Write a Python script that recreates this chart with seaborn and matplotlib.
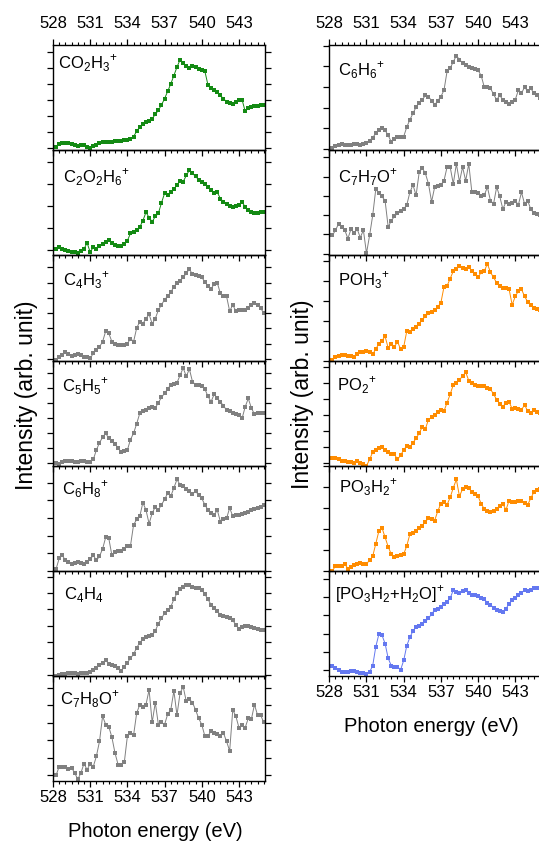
import numpy as np
import matplotlib
matplotlib.use("Agg")
import matplotlib.pyplot as plt
import seaborn as sns

# photon energy grid (eV), values in % of panel height
energy = np.round(np.arange(528.25, 545.01, 0.25), 2)

co2h3 = [3, 6, 7,
         7, 7, 6, 5, 4, 5, 5, 3, 2, 4, 5, 7, 8, 8, 8, 8,
         9, 9, 9, 10, 10, 11, 13, 18, 22, 25, 27, 28, 30, 34, 38, 43,
         49, 56, 63, 71, 79, 86, 83, 80, 78, 80, 79, 77, 76, 75, 62, 59,
         57, 55, 52, 49, 46, 45, 44, 46, 48, 48, 37, 40, 41, 42, 42, 43,
         43]
c2o2h6 = [6, 8, 6,
          5, 4, 3, 3, 2, 4, 6, 12, 3, 8, 6, 9, 11, 13, 15, 12,
          10, 9, 9, 11, 14, 21, 22, 24, 27, 33, 41, 36, 32, 37, 40, 50,
          59, 57, 60, 63, 67, 71, 70, 76, 81, 78, 75, 72, 70, 68, 65, 62,
          59, 60, 54, 51, 49, 47, 46, 47, 48, 51, 46, 43, 41, 40, 40, 41,
          41]
c4h3 = [1, 3, 5,
        8, 6, 4, 5, 6, 5, 3, 3, 2, 7, 10, 13, 18, 28, 26, 18,
        16, 15, 15, 15, 16, 21, 18, 31, 37, 35, 40, 44, 35, 40, 48, 53,
        58, 61, 65, 70, 74, 76, 79, 83, 87, 82, 81, 80, 79, 75, 71, 68,
        73, 74, 64, 61, 61, 47, 53, 47, 48, 48, 48, 50, 53, 55, 53, 50,
        45]
c5h5 = [3, 2, 4,
        5, 5, 5, 4, 4, 5, 5, 4, 4, 6, 15, 22, 27, 31, 26, 24,
        21, 17, 13, 14, 15, 25, 31, 40, 50, 52, 53, 55, 56, 55, 60, 65,
        69, 73, 77, 78, 79, 86, 93, 85, 92, 80, 77, 77, 76, 73, 66, 61,
        68, 64, 61, 57, 53, 52, 50, 49, 48, 45, 56, 64, 55, 49, 50, 50,
        50]
c6h8 = [2, 12, 15,
        10, 9, 7, 8, 9, 8, 7, 9, 11, 15, 10, 14, 21, 32, 31, 15,
        18, 19, 19, 21, 24, 24, 44, 49, 52, 65, 58, 45, 55, 61, 58, 63,
        68, 74, 71, 79, 87, 82, 81, 78, 76, 73, 76, 72, 69, 63, 58, 55,
        53, 58, 47, 49, 50, 60, 52, 53, 53, 54, 55, 56, 58, 59, 60, 61,
        63]
c4h4 = [0, 1, 2,
        2, 3, 3, 3, 2, 3, 3, 3, 4, 6, 8, 11, 13, 15, 12, 11,
        10, 8, 5, 9, 13, 17, 21, 27, 32, 35, 37, 38, 39, 43, 50, 55,
        60, 63, 66, 73, 79, 83, 85, 87, 87, 85, 84, 84, 82, 78, 73, 68,
        65, 62, 58, 57, 56, 55, 53, 49, 45, 47, 48, 48, 47, 46, 45, 44,
        44]
c7h8o = [6, 14, 14,
         14, 12, 13, 8, 2, 8, 17, 11, 17, 14, 24, 38, 62, 54, 52, 42,
         27, 16, 16, 18, 43, 46, 44, 65, 73, 71, 73, 87, 56, 75, 54, 56,
         54, 64, 68, 86, 63, 84, 90, 76, 78, 75, 68, 60, 54, 43, 43, 48,
         46, 45, 43, 46, 38, 29, 68, 62, 51, 54, 51, 60, 59, 73, 63, 63,
         56]
c6h6 = [2, 4, 5,
        6, 5, 5, 5, 6, 6, 5, 6, 7, 9, 12, 16, 19, 21, 19, 14,
        8, 11, 13, 13, 13, 22, 29, 35, 41, 45, 48, 52, 51, 47, 43, 47,
        51, 57, 75, 78, 84, 90, 86, 83, 81, 79, 78, 77, 76, 71, 60, 60,
        59, 53, 48, 52, 48, 46, 44, 46, 48, 57, 54, 60, 56, 59, 54, 52,
        50]
c7h7o = [19, 24, 30,
         27, 24, 16, 25, 21, 25, 17, 24, 2, 19, 38, 63, 59, 56, 52, 27,
         33, 37, 40, 42, 44, 48, 60, 67, 57, 79, 83, 78, 68, 51, 65, 66,
         67, 71, 84, 84, 68, 87, 70, 84, 71, 87, 60, 60, 59, 56, 57, 65,
         52, 49, 65, 56, 44, 51, 49, 50, 52, 48, 60, 49, 52, 44, 40, 39,
         38]
poh3 = [1, 3, 4,
        5, 5, 4, 4, 3, 6, 8, 8, 9, 8, 6, 11, 16, 19, 23, 12,
        16, 13, 18, 11, 13, 28, 27, 30, 32, 35, 39, 42, 45, 46, 48, 51,
        55, 70, 71, 78, 85, 87, 90, 88, 87, 89, 85, 82, 79, 84, 85, 92,
        84, 79, 74, 71, 69, 69, 68, 53, 61, 66, 68, 61, 56, 53, 50, 49,
        48]
po2 = [7, 7, 6,
       5, 5, 4, 4, 3, 5, 3, 2, 0, 6, 13, 15, 17, 18, 15, 13,
       11, 11, 6, 10, 15, 19, 18, 22, 26, 31, 37, 35, 44, 46, 48, 51,
       53, 52, 60, 68, 77, 79, 82, 85, 89, 81, 79, 77, 76, 76, 76, 74,
       73, 68, 63, 59, 56, 60, 61, 54, 55, 54, 53, 58, 52, 50, 53, 51,
       50]
po3h2 = [0, 5, 5,
         5, 7, 2, 4, 6, 7, 8, 7, 7, 10, 14, 26, 38, 41, 32, 23,
         16, 13, 14, 15, 16, 24, 35, 36, 38, 41, 43, 47, 50, 49, 48, 57,
         64, 66, 63, 70, 79, 87, 71, 78, 80, 79, 75, 73, 71, 64, 59, 57,
         56, 57, 59, 62, 64, 58, 67, 66, 66, 67, 67, 65, 63, 69, 75, 77,
         78]
po3h2_h2o = [10, 8, 6,
             4, 4, 4, 5, 5, 4, 3, 3, 2, 4, 10, 28, 40, 39, 31, 17,
             10, 9, 9, 6, 15, 29, 37, 43, 47, 48, 50, 52, 55, 59, 63, 64,
             66, 69, 71, 74, 82, 80, 79, 81, 82, 79, 77, 77, 76, 74, 73, 70,
             68, 65, 63, 62, 61, 64, 69, 72, 74, 77, 79, 82, 81, 82, 84, 84,
             84]

left_series = [co2h3, c2o2h6, c4h3, c5h5, c6h8, c4h4, c7h8o]
left_labels = [r'CO$_\mathregular{2}$H$_\mathregular{3}$$^\mathregular{+}$',
               r'C$_\mathregular{2}$O$_\mathregular{2}$H$_\mathregular{6}$$^\mathregular{+}$',
               r'C$_\mathregular{4}$H$_\mathregular{3}$$^\mathregular{+}$',
               r'C$_\mathregular{5}$H$_\mathregular{5}$$^\mathregular{+}$',
               r'C$_\mathregular{6}$H$_\mathregular{8}$$^\mathregular{+}$',
               r'C$_\mathregular{4}$H$_\mathregular{4}$',
               r'C$_\mathregular{7}$H$_\mathregular{8}$O$^\mathregular{+}$']
left_colors = ['#138a13', '#138a13', '#808080', '#808080', '#808080', '#808080', '#808080']

right_series = [c6h6, c7h7o, poh3, po2, po3h2, po3h2_h2o]
right_labels = [r'C$_\mathregular{6}$H$_\mathregular{6}$$^\mathregular{+}$',
                r'C$_\mathregular{7}$H$_\mathregular{7}$O$^\mathregular{+}$',
                r'POH$_\mathregular{3}$$^\mathregular{+}$',
                r'PO$_\mathregular{2}$$^\mathregular{+}$',
                r'PO$_\mathregular{3}$H$_\mathregular{2}$$^\mathregular{+}$',
                r'[PO$_\mathregular{3}$H$_\mathregular{2}$+H$_\mathregular{2}$O]$^\mathregular{+}$']
right_colors = ['#808080', '#808080', '#ff8c00', '#ff8c00', '#ff8c00', '#6478f0']

# unlabeled y tick (start, step) per panel, label offset from the top-left corner in px
left_yticks = [(2, 15.3), (5, 21), (1.6, 14.5), (3, 14.2), (0, 16.8), (1.6, 15.5), (6, 16.6)]
right_yticks = [(1, 19.7), (1.6, 18.3), (0, 19), (2.6, 15.2), (0, 19.9), (5.8, 17.3)]
left_lab_pos = [(5, 23), (10, 32), (10, 30), (9, 31), (9, 29), (11, 28), (7, 28)]
right_lab_pos = [(9, 30), (9, 32), (9, 30), (8, 30), (10, 27), (6, 28)]

sns.set_style("ticks")
plt.rcParams['font.family'] = ['Liberation Sans', 'DejaVu Sans']
plt.rcParams['mathtext.fontset'] = 'custom'
plt.rcParams['mathtext.rm'] = 'Liberation Sans'
plt.rcParams['axes.linewidth'] = 1.0
for key in ['text.color', 'axes.labelcolor', 'xtick.color', 'ytick.color', 'axes.edgecolor']:
    plt.rcParams[key] = 'black'

W, H = 539, 843
fig = plt.figure(figsize=(W / 100, H / 100), dpi=100)
fig.patch.set_facecolor('white')

PANEL_H = 105.2
PANEL_W = 212


def draw_column(x0, series, labels, colors, yticks, lab_pos):
    n = len(series)
    for i in range(n):
        top = 45 + i * PANEL_H
        ax = fig.add_axes([x0 / W, 1 - (top + PANEL_H) / H, PANEL_W / W, PANEL_H / H])
        ax.set_facecolor('none')
        sns.lineplot(x=energy, y=series[i], ax=ax, color=colors[i], marker='s',
                     markersize=2.6, markeredgewidth=0, linewidth=0.7)
        ax.set_xlim(528, 545.1)
        ax.set_ylim(0, 100)
        ax.set_xticks(np.arange(528, 545, 3))
        ax.set_xticks(np.arange(528, 545.1, 0.5), minor=True)
        start, step = yticks[i]
        ax.set_yticks(np.arange(start, 100, step))
        ax.set_xlabel('')
        ax.set_ylabel('')
        first, last = i == 0, i == n - 1
        ax.tick_params(axis='y', which='major', left=True, right=True, direction='out',
                       length=4.3, width=0.9, labelleft=False, labelright=False)
        ax.tick_params(axis='x', which='major', bottom=True, top=first, direction='out',
                       length=4.3, width=0.9, labelbottom=last, labeltop=first,
                       labelsize=12, pad=6 if first else 2)
        ax.tick_params(axis='x', which='minor', bottom=True, top=first, direction='out',
                       length=2.3, width=0.8)
        for sp in ax.spines.values():
            sp.set_visible(True)
            sp.set_color('black')
        dx, dy = lab_pos[i]
        ax.text(dx / PANEL_W, 1 - dy / PANEL_H, labels[i], transform=ax.transAxes,
                ha='left', va='baseline', fontsize=12)
    return 45 + n * PANEL_H


bottom_l = draw_column(53, left_series, left_labels, left_colors, left_yticks, left_lab_pos)
bottom_r = draw_column(329.3, right_series, right_labels, right_colors, right_yticks, right_lab_pos)

fig.text(155 / W, 1 - (bottom_l + 56) / H, 'Photon energy (eV)', ha='center', va='baseline', fontsize=14.5)
fig.text(431 / W, 1 - (bottom_r + 56) / H, 'Photon energy (eV)', ha='center', va='baseline', fontsize=14.5)
fig.text(27 / W, 1 - 395 / H, 'Intensity (arb. unit)', rotation=90, ha='center', va='center', fontsize=16.5)
fig.text(302 / W, 1 - 394 / H, 'Intensity (arb. unit)', rotation=90, ha='center', va='center', fontsize=16.5)

fig.savefig('out.png', dpi=100, facecolor='white')
